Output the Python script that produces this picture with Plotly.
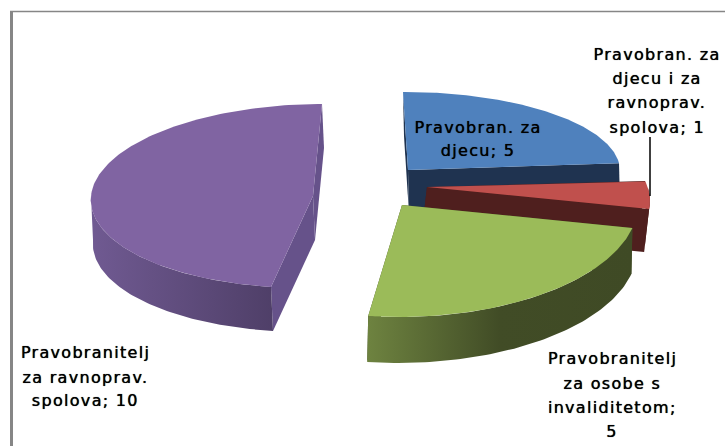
import numpy as np
import plotly.graph_objects as go

# --- data ---
categories = ["Pravobran. za\ndjecu", "Pravobran. za\ndjecu i za\nravnoprav.\nspolova",
              "Pravobranitelj\nza osobe s\ninvaliditetom", "Pravobranitelj\nza ravnoprav.\nspolova"]
values = [5, 1, 5, 10]
value_sep = [" ", " ", "\n", " "]

# --- styles and projection of the 3-D exploded pie (per slice: apex, sin-axis, cos-axis, depth) ---
top_colors = ["#4f81bd", "#c0504d", "#9bbb59", "#8064a2"]
cut_colors = ["#1f3350", "#4f1f1e", "#414c26", "#66528a"]
rim_gradients = [
    None, None,
    [[0, "#6e8340"], [0.5, "#414c26"], [1, "#3f4a25"]],
    [[0, "#705a92"], [1, "#4f3f68"]],
]
frames = [
    dict(c=(408, 170), a=(212, -1), b=(-5, -78), d=(1, 44)),
    dict(c=(427, 187), a=(221, 1), b=(-30, -95), d=(-5, 43)),
    dict(c=(402, 205), a=(236, -2), b=(-1.4, -112), d=(-1, 46)),
    dict(c=(313, 196), a=(222, 0), b=(9, -92), d=(2, 44)),
]
label_pos = [(478, [127, 150]), (657, [54, 78, 102, 127]),
             (612, [358, 383, 407, 431]), (85, [352, 377, 400])]
label_font = dict(family="DejaVu Sans", size=16, color="#000000", shadow="0 0 0.7px #000000")

fig = go.Figure()


def project(frame, theta):
    t = np.asarray(theta)
    x = frame["c"][0] + frame["a"][0] * np.sin(t) + frame["b"][0] * np.cos(t)
    y = frame["c"][1] + frame["a"][1] * np.sin(t) + frame["b"][1] * np.cos(t)
    return x, y


def poly(x, y, color=None, gradient=None):
    kw = dict(x=np.append(x, x[0]), y=np.append(y, y[0]), mode="lines", fill="toself",
              line=dict(width=0), hoverinfo="skip", showlegend=False)
    if gradient is None:
        kw["fillcolor"] = color
    else:
        kw["fillgradient"] = dict(type="horizontal", colorscale=gradient,
                                  start=float(np.min(x)), stop=float(np.max(x)))
    fig.add_trace(go.Scatter(**kw))


edges = 2 * np.pi * np.concatenate([[0], np.cumsum(values)]) / np.sum(values)

for i, fr in enumerate(frames):
    t0, t1 = edges[i], edges[i + 1]
    cx, cy = fr["c"]
    dx, dy = fr["d"]
    # two cut faces
    for t in (t0, t1):
        ex, ey = project(fr, [t])
        poly(np.array([cx, ex[0], ex[0] + dx, cx + dx]),
             np.array([cy, ey[0], ey[0] + dy, cy + dy]), cut_colors[i])
    # outer rim (front-facing part only)
    lo, hi = max(t0, np.pi / 2), min(t1, 3 * np.pi / 2)
    if hi > lo:
        th = np.linspace(lo, hi, 80)
        rx, ry = project(fr, th)
        poly(np.concatenate([rx, rx[::-1] + dx]), np.concatenate([ry, ry[::-1] + dy]),
             cut_colors[i], rim_gradients[i])
    # top face
    th = np.linspace(t0, t1, 160)
    tx, ty = project(fr, th)
    poly(np.concatenate([[cx], tx]), np.concatenate([[cy], ty]), top_colors[i])

# labels
for name, val, sep, (lx, lys) in zip(categories, values, value_sep, label_pos):
    lines = f"{name};{sep}{val}".split("\n")
    for line, ly in zip(lines, lys):
        fig.add_annotation(x=lx, y=ly, text=line, showarrow=False, xanchor="center",
                           yanchor="middle", font=label_font)

# leader line and chart frame
fig.add_shape(type="line", x0=650, x1=650, y0=137, y1=196, line=dict(color="#000000", width=1.5))
fig.add_shape(type="line", x0=11.5, x1=11.5, y0=11, y1=446, line=dict(color="#868686", width=3))
fig.add_shape(type="line", x0=10, x1=725, y0=11.5, y1=11.5, line=dict(color="#868686", width=1.5))

fig.update_layout(
    width=725, height=446, margin=dict(l=0, r=0, t=0, b=0),
    paper_bgcolor="white", plot_bgcolor="white", showlegend=False,
    xaxis=dict(range=[0, 725], visible=False, fixedrange=True),
    yaxis=dict(range=[446, 0], visible=False, fixedrange=True),
)
post = """
document.body.style.margin='0';
document.documentElement.style.overflow='hidden';
document.querySelectorAll('.annotation-text').forEach(function(t){t.style.letterSpacing='1.3px';});
"""
fig.write_html("out.html", post_script=post, config={"displayModeBar": False})
